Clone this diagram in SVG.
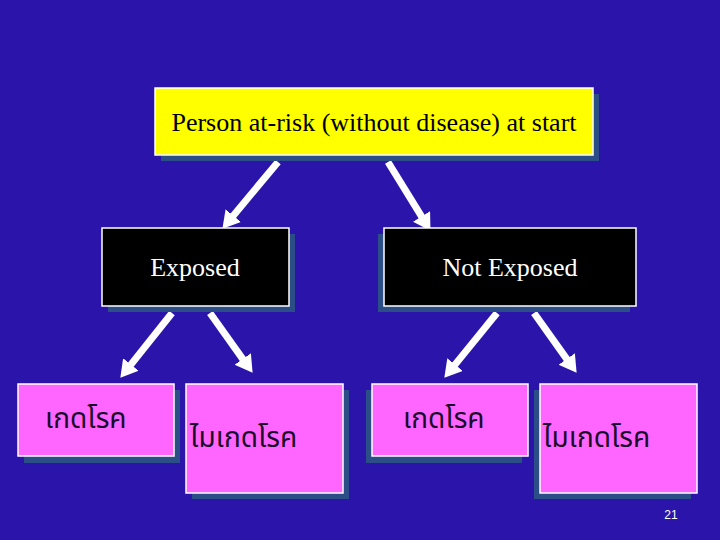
<svg xmlns="http://www.w3.org/2000/svg" width="720" height="540" viewBox="0 0 720 540">
<defs>
<marker id="ah" markerUnits="userSpaceOnUse" markerWidth="20" markerHeight="22" refX="2" refY="10" orient="auto">
<path d="M0,0 L17,10 L0,20 z" fill="#FFFFFF"/>
</marker>
</defs>
<style>
.shadow{fill:#2B4E86}
.box{stroke:#FFFFFF;stroke-width:1.5}
.yellow{fill:#FFFF00}
.black{fill:#000000}
.pink{fill:#FF66FF}
.en{font-family:"Liberation Serif","Times New Roman",serif;font-size:26px;text-anchor:middle}
.th{font-family:"Noto Sans Thai","Tahoma","DejaVu Sans",sans-serif;font-size:28px;fill:#1A0A2A}
.arrow{stroke:#FFFFFF;stroke-width:7;fill:none;marker-end:url(#ah)}
</style>
<rect x="0" y="0" width="720" height="540" fill="#2A14AA"/>
<g id="connectors">
<line class="arrow" x1="278" y1="162" x2="232" y2="217.2"/>
<line class="arrow" x1="388" y1="162" x2="422.6" y2="218.1"/>
<line class="arrow" x1="172" y1="313" x2="129.7" y2="366.1"/>
<line class="arrow" x1="210" y1="313" x2="243.9" y2="360.6"/>
<line class="arrow" x1="497" y1="313" x2="453.8" y2="366.1"/>
<line class="arrow" x1="534" y1="313" x2="567.9" y2="360.6"/>
</g>
<g id="start">
<rect class="shadow" x="161" y="94" width="438" height="67"/>
<rect class="box yellow" x="155" y="88" width="438" height="67"/>
<text class="en" x="374" y="131" fill="#000000">Person at-risk (without disease) at start</text>
</g>
<g id="exposed">
<rect class="shadow" x="108" y="234" width="187" height="78"/>
<rect class="box black" x="102" y="228" width="187" height="78"/>
<text class="en" x="195" y="276" fill="#FFFFFF">Exposed</text>
</g>
<g id="not-exposed">
<rect class="shadow" x="378" y="234" width="252" height="78"/>
<rect class="box black" x="384" y="228" width="252" height="78"/>
<text class="en" x="510" y="276" fill="#FFFFFF">Not Exposed</text>
</g>
<g id="exposed-disease">
<rect class="shadow" x="24" y="390" width="156" height="73"/>
<rect class="box pink" x="18" y="384" width="156" height="72"/>
<text class="th" x="45" y="428">เกดโรค</text>
</g>
<g id="exposed-no-disease">
<rect class="shadow" x="192" y="390" width="157" height="109"/>
<rect class="box pink" x="186" y="384" width="157" height="109"/>
<text class="th" x="190" y="447">ไมเกดโรค</text>
</g>
<g id="notexposed-disease">
<rect class="shadow" x="366" y="390" width="156" height="73"/>
<rect class="box pink" x="372" y="384" width="156" height="72"/>
<text class="th" x="403" y="428">เกดโรค</text>
</g>
<g id="notexposed-no-disease">
<rect class="shadow" x="534" y="390" width="157" height="109"/>
<rect class="box pink" x="540" y="384" width="157" height="109"/>
<text class="th" x="543" y="447">ไมเกดโรค</text>
</g>
<text x="671" y="519" font-family="Liberation Sans, Arial, sans-serif" font-size="12" fill="#FFFFFF" text-anchor="middle">21</text>
</svg>
